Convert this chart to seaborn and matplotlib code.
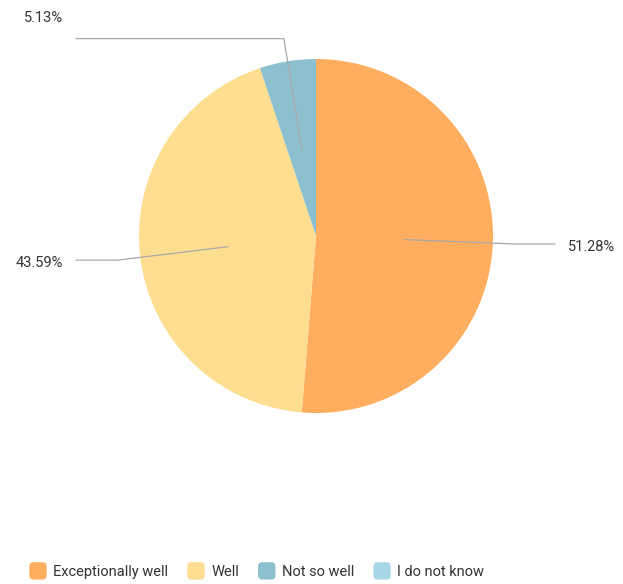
import numpy as np
import matplotlib
matplotlib.use('Agg')
import matplotlib.pyplot as plt
from matplotlib.patches import Patch, FancyBboxPatch
from matplotlib.legend_handler import HandlerPatch
import seaborn as sns

categories = ['Exceptionally well', 'Well', 'Not so well', 'I do not know']
shares = [51.28, 43.59, 5.13, 0.0]
colors = ['#FFAD5F', '#FDDD8F', '#8DC0CE', '#A8D8E8']


class RoundBox(HandlerPatch):
    def create_artists(self, legend, orig_handle, xdescent, ydescent,
                       width, height, fontsize, trans):
        s = 12.5
        p = FancyBboxPatch((-xdescent + (width - s) / 2, -ydescent + (height - s) / 2),
                           s, s, boxstyle='round,pad=0,rounding_size=3',
                           facecolor=orig_handle.get_facecolor(), edgecolor='none',
                           transform=trans)
        return [p]


sns.set_theme(style='white')
plt.rcParams['font.family'] = ['Roboto', 'DejaVu Sans']

W, H = 623, 584
fig = plt.figure(figsize=(W / 100, H / 100), dpi=100, facecolor='white')
ax = fig.add_axes([0, 0, 1, 1])

cx, cy, R = 316, H - 236, 177
wedges, _ = ax.pie(shares, colors=colors, startangle=90, counterclock=False,
                   center=(cx, cy), radius=R, frame=True,
                   wedgeprops=dict(linewidth=0))
ax.set_xlim(0, W)
ax.set_ylim(0, H)
ax.set_aspect('equal')
ax.axis('off')

# leader lines and percentage labels
for w, val in zip(wedges, shares):
    if val <= 0:
        continue
    ang = np.deg2rad((w.theta1 + w.theta2) / 2)
    x0, y0 = cx + 0.5 * R * np.cos(ang), cy + 0.5 * R * np.sin(ang)
    x1, y1 = cx + 1.13 * R * np.cos(ang), cy + 1.13 * R * np.sin(ang)
    if np.cos(ang) >= 0:
        x2, tx, ha = 555, 568, 'left'
    else:
        x2, tx, ha = 76, 63, 'right'
    ax.plot([x0, x1, x2], [y0, y1, y1], color='#a8a8a8', lw=0.9,
            solid_joinstyle='miter')
    # the top label sits above its line
    ty = y1 + 21 if np.sin(ang) > 0.9 else y1 - 3
    ax.text(tx, ty, f'{val:.2f}%', ha=ha, va='center',
            fontsize=10.5, color='#333333')

handles = [Patch(facecolor=c) for c in colors]
fig.legend(handles, categories, loc='center', bbox_to_anchor=(0.411, 1 - 572 / H),
           ncol=4, frameon=False, fontsize=10.5, handletextpad=0.35,
           columnspacing=1.2, labelcolor='#333333', handlelength=1.4,
           handler_map={Patch: RoundBox()})

fig.savefig('out.png', dpi=100, facecolor='white')
